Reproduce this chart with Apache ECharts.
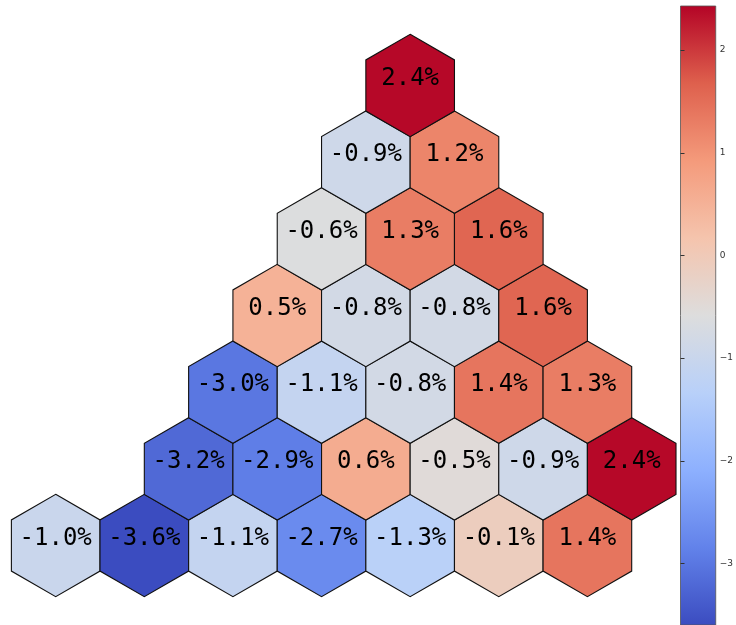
<!DOCTYPE html>
<html>
<head>
<meta charset="utf-8">
<script src="https://cdn.jsdelivr.net/npm/echarts@6/dist/echarts.min.js"></script>
<style>
  html, body { margin: 0; padding: 0; background: #fff; }
  #chart { width: 736px; height: 625px; }
</style>
</head>
<body>
<div id="chart"></div>
<script>
// values per row, bottom row first
var rowValues = [
  [-1.0, -3.6, -1.1, -2.7, -1.3, -0.1, 1.4],
  [-3.2, -2.9, 0.6, -0.5, -0.9, 2.4],
  [-3.0, -1.1, -0.8, 1.4, 1.3],
  [0.5, -0.8, -0.8, 1.6],
  [-0.6, 1.3, 1.6],
  [-0.9, 1.2],
  [2.4]
];
// first cell of each row, in half-hexagon steps
var rowStart = [0, 3, 4, 5, 6, 7, 8];
var colorTicks = [-3, -2, -1, 0, 1, 2];
var colorMin = -3.6, colorMax = 2.43;
var coolwarm = ['#3b4cc0', '#6282ea', '#8db0fe', '#b8d0f9', '#dddddd',
                '#f5c4ad', '#f49a7b', '#de604d', '#b40426'];

var cells = [];
rowValues.forEach(function (vals, r) {
  vals.forEach(function (v, i) {
    cells.push([rowStart[r] + 2 * i, r, v]);
  });
});

function renderHex(params, api) {
  var c = api.coord([api.value(0), api.value(1)]);
  var w = api.size([2, 0])[0];
  var r = w / Math.sqrt(3);
  var pts = [];
  for (var i = 0; i < 6; i++) {
    var a = Math.PI / 180 * (60 * i - 90);
    pts.push([c[0] + r * Math.cos(a), c[1] + r * Math.sin(a)]);
  }
  return {
    type: 'group',
    children: [{
      type: 'polygon',
      shape: {points: pts},
      style: {fill: api.visual('color'), stroke: '#111', lineWidth: 1.1}
    }, {
      type: 'text',
      style: {
        text: api.value(2).toFixed(1) + '%',
        x: c[0], y: c[1] - 7,
        align: 'center', verticalAlign: 'middle',
        font: '24px "DejaVu Sans Mono"', fill: '#000'
      }
    }]
  };
}

// colorbar fill: the colormap from bottom (min) to top (max)
var barFill = new echarts.graphic.LinearGradient(0, 1, 0, 0,
  coolwarm.map(function (c, i) { return {offset: i / (coolwarm.length - 1), color: c}; }));

var chart = echarts.init(document.getElementById('chart'));
chart.setOption({
  animation: false,
  grid: [
    {left: 55.7, width: 576, top: 85.5, bottom: 79.5},
    {left: 680.5, width: 37, top: 6, height: 620, show: true,
     borderColor: '#555', borderWidth: 0.8, backgroundColor: barFill}
  ],
  xAxis: [
    {type: 'value', gridIndex: 0, min: 0, max: 13, show: false},
    {type: 'value', gridIndex: 1, min: 0, max: 1, show: false}
  ],
  yAxis: [
    {type: 'value', gridIndex: 0, min: 0, max: 6, show: false},
    {type: 'value', gridIndex: 1, min: colorMin, max: colorMax, position: 'right',
     splitLine: {show: false},
     axisLine: {show: false},
     axisTick: {show: true, length: 4, customValues: colorTicks,
                lineStyle: {color: '#333', width: 1}},
     axisLabel: {customValues: colorTicks, margin: 4, fontSize: 9, color: '#333',
                 fontFamily: 'DejaVu Sans',
                 formatter: function (v) { return String(v).replace('-', '\u2212'); }}}
  ],
  visualMap: {
    type: 'continuous',
    show: false,
    seriesIndex: 0,
    dimension: 2,
    min: colorMin,
    max: colorMax,
    inRange: {color: coolwarm}
  },
  series: [{
    type: 'custom',
    xAxisIndex: 0,
    yAxisIndex: 0,
    renderItem: renderHex,
    data: cells
  }]
});
</script>
</body>
</html>
